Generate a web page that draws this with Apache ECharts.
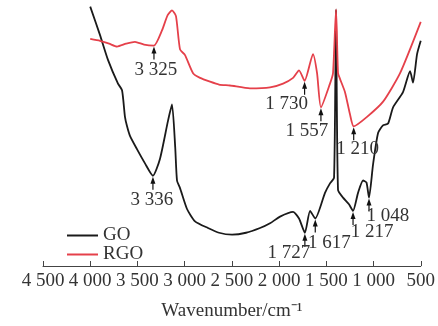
<!DOCTYPE html>
<html>
<head>
<meta charset="utf-8">
<script src="https://cdn.jsdelivr.net/npm/echarts@6/dist/echarts.min.js"></script>
<style>
  html, body { margin: 0; padding: 0; background: #fff; }
  #chart { width: 438px; height: 326px; }
</style>
</head>
<body>
<div id="chart"></div>
<script>
// FTIR 谱图 GO / RGO
var xTicks = [4500, 4000, 3500, 3000, 2500, 2000, 1500, 1000, 500];

// [wavenumber, transmittance (a.u.)]
var goData = [
  [4000, 273], [3896, 243], [3812, 217], [3706, 192], [3663, 185], [3632, 157],
  [3610, 147], [3579, 137], [3505, 123], [3420, 108], [3336, 95], [3261, 113],
  [3176, 153], [3134, 170], [3100, 125], [3081, 90], [3049, 82], [2975, 60],
  [2890, 47], [2753, 40], [2636, 35], [2498, 33], [2350, 35], [2202, 40],
  [2096, 45], [1990, 52], [1852, 57], [1789, 50], [1727, 35], [1672, 58],
  [1617, 50], [1514, 77], [1461, 87], [1418, 93], [1397, 270], [1376, 80],
  [1323, 72], [1260, 65], [1217, 58], [1164, 77], [1111, 90], [1075, 88],
  [1048, 72], [1005, 107], [952, 140], [900, 148], [846, 150], [793, 167],
  [688, 183], [613, 205], [582, 193], [539, 223], [500, 237]
];

var rgoData = [
  [4000, 239], [3896, 237], [3800, 234], [3716, 231], [3620, 234], [3526, 236],
  [3430, 233], [3325, 232], [3240, 248], [3180, 264], [3134, 269], [3092, 263],
  [3049, 228], [2996, 222], [2911, 203], [2837, 198], [2731, 194], [2636, 191],
  [2520, 190], [2308, 187], [2096, 188], [1958, 192], [1852, 198], [1789, 206],
  [1730, 195], [1641, 223], [1598, 203], [1557, 167], [1461, 192], [1429, 203],
  [1397, 270], [1376, 203], [1355, 197], [1302, 183], [1250, 160], [1210, 147],
  [1069, 157], [899, 173], [719, 203], [500, 257]
];

// annotated bands
var goMarks = [3336, 1727, 1617, 1217, 1048];
var rgoMarks = [3325, 1730, 1557, 1210];

// label offsets (px) from arrow tip
var goLabelPos = [[-1, 23], [-16, 19], [14, 24], [19, 20], [19, 17]];
var rgoLabelPos = [[2, 23], [-18, 22], [-14, 23], [4, 22]];

var FONT = 'Liberation Serif';

function fmtNum(v) {
  if (v >= 1000) {
    var r = String(v % 1000);
    while (r.length < 3) r = '0' + r;
    return Math.floor(v / 1000) + ' ' + r;
  }
  return String(v);
}

function buildMarks(marks, curve, pos) {
  return marks.map(function (wn, i) {
    var pt = curve.find(function (d) { return d[0] === wn; });
    return [wn, pt[1], pos[i][0], pos[i][1]];
  });
}

function renderMark(params, api) {
  var p = api.coord([api.value(0), api.value(1)]);
  var x = p[0], y = p[1] + 1;
  return {
    type: 'group',
    children: [{
      type: 'polygon',
      shape: { points: [[x, y], [x - 2.5, y + 7], [x + 2.5, y + 7]] },
      style: { fill: '#111' }
    }, {
      type: 'line',
      shape: { x1: x, y1: y + 5, x2: x, y2: y + 13 },
      style: { stroke: '#111', lineWidth: 1.2 }
    }, {
      type: 'text',
      x: x + api.value(2),
      y: y + api.value(3),
      style: {
        text: fmtNum(api.value(0)),
        fontFamily: FONT,
        fontSize: 19,
        fill: '#333',
        align: 'center',
        verticalAlign: 'middle'
      }
    }]
  };
}

var chart = echarts.init(document.getElementById('chart'));

var option = {
  backgroundColor: '#fff',
  animation: false,
  grid: { left: 43, right: 17, top: 0, bottom: 46 },
  legend: {
    data: ['GO', 'RGO'],
    orient: 'vertical',
    left: 62,
    top: 221,
    itemWidth: 31,
    itemHeight: 2,
    itemGap: 0,
    icon: 'rect',
    textStyle: { fontFamily: FONT, fontSize: 19, color: '#333', lineHeight: 18 }
  },
  xAxis: {
    type: 'value',
    inverse: true,
    min: 500,
    max: 4500,
    interval: 500,
    name: 'Wavenumber/cm\u207B\u00B9',
    nameLocation: 'middle',
    nameGap: 36,
    nameTextStyle: { fontFamily: FONT, fontSize: 19, color: '#333' },
    axisLine: { lineStyle: { color: '#444', width: 1 } },
    axisTick: { inside: true, length: 5, lineStyle: { color: '#444' } },
    axisLabel: {
      margin: 6,
      fontFamily: FONT,
      fontSize: 19,
      color: '#333',
      formatter: fmtNum
    },
    splitLine: { show: false }
  },
  yAxis: {
    type: 'value',
    min: 0,
    max: 280,
    show: false
  },
  series: [{
    name: 'GO',
    type: 'line',
    data: goData,
    symbol: 'none',
    smooth: 0.2,
    color: '#1a1a1a',
    lineStyle: { width: 1.8, color: '#1a1a1a' }
  }, {
    name: 'RGO',
    type: 'line',
    data: rgoData,
    symbol: 'none',
    smooth: 0.2,
    color: '#e5404a',
    lineStyle: { width: 1.8, color: '#e5404a' }
  }, {
    name: 'GO-marks',
    type: 'custom',
    renderItem: renderMark,
    data: buildMarks(goMarks, goData, goLabelPos),
    z: 5,
    silent: true
  }, {
    name: 'RGO-marks',
    type: 'custom',
    renderItem: renderMark,
    data: buildMarks(rgoMarks, rgoData, rgoLabelPos),
    z: 5,
    silent: true
  }]
};

chart.setOption(option, true);
</script>
</body>
</html>
